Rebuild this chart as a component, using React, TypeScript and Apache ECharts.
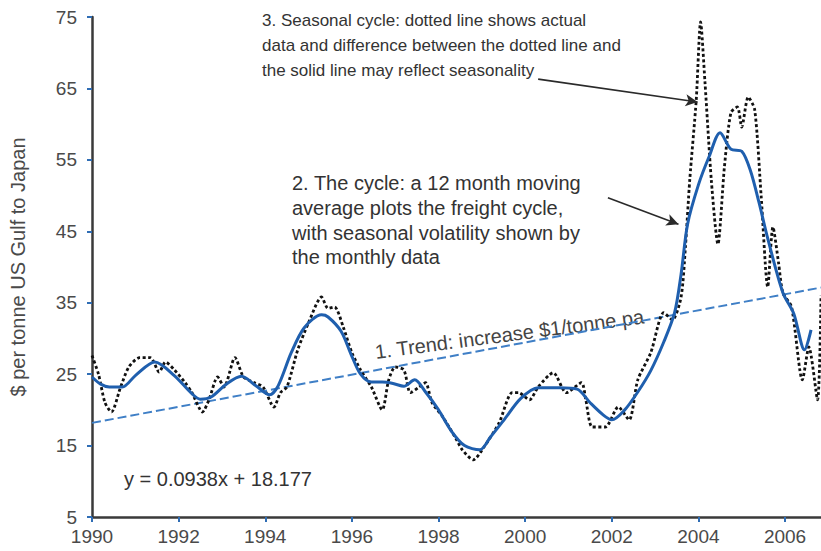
import React, { useEffect, useRef } from "react";
import * as echarts from "echarts";

// ---- Axis ----
const X_MIN = 1990;
const X_MAX = 2006.83;
const Y_MIN = 5;
const Y_MAX = 75;
const X_INTERVAL = 2;
const Y_INTERVAL = 10;
const Y_AXIS_NAME = "$ per tonne US Gulf to Japan";

// ---- 12 month moving average (solid blue) ----
const maYears = [
  1990.0, 1990.2, 1990.4, 1990.7, 1991.0, 1991.45, 1991.9, 1992.3, 1992.5, 1992.75,
  1993.1, 1993.45, 1993.8, 1994.1, 1994.3, 1994.6, 1994.9, 1995.3, 1995.45, 1995.75,
  1996.0, 1996.2, 1996.45, 1996.7, 1996.95, 1997.2, 1997.45, 1997.7, 1998.0, 1998.3,
  1998.6, 1998.95, 1999.2, 1999.5, 1999.9, 2000.3, 2000.8, 2001.2, 2001.5, 2001.8,
  2002.0, 2002.3, 2002.6, 2002.9, 2003.2, 2003.45, 2003.6, 2003.75, 2004.0, 2004.25,
  2004.5, 2004.75, 2005.0, 2005.2, 2005.4, 2005.6, 2005.95, 2006.2, 2006.45, 2006.6,
];
const maValues = [
  24.6, 23.6, 23.2, 23.2, 24.8, 26.7, 24.8, 22.3, 21.5, 21.8,
  23.6, 24.7, 23.3, 22.1, 23.4, 28.0, 31.5, 33.3, 33.0, 31.0,
  27.5, 25.0, 23.9, 23.9, 23.7, 23.3, 24.2, 22.5, 20.0, 17.0,
  15.0, 14.4, 16.2, 18.5, 21.6, 23.1, 23.1, 22.9, 21.0, 19.3,
  18.6, 20.0, 22.5, 25.5, 29.5, 33.6, 39.0, 46.0, 51.5, 55.5,
  58.8, 56.5, 56.2, 53.5, 49.0, 44.0, 36.4, 33.5, 28.4, 31.2,
];

// ---- Monthly data (dotted black) ----
const moYears = [
  1990.0, 1990.15, 1990.3, 1990.45, 1990.65, 1990.85, 1991.1, 1991.35, 1991.55, 1991.7,
  1991.9, 1992.15, 1992.3, 1992.55, 1992.7, 1992.9, 1993.05, 1993.3, 1993.5, 1993.75,
  1993.95, 1994.2, 1994.35, 1994.5, 1994.75, 1995.0, 1995.3, 1995.45, 1995.6, 1995.8,
  1996.0, 1996.2, 1996.45, 1996.7, 1996.85, 1997.0, 1997.2, 1997.35, 1997.55, 1997.7,
  1997.85, 1998.1, 1998.4, 1998.55, 1998.8, 1999.05, 1999.4, 1999.7, 1999.85, 2000.1,
  2000.3, 2000.65, 2000.95, 2001.3, 2001.4, 2001.55, 2001.85, 2002.15, 2002.4, 2002.6,
  2002.9, 2003.2, 2003.4, 2003.6, 2003.7, 2003.8, 2003.95, 2004.05, 2004.15, 2004.3,
  2004.45, 2004.6, 2004.75, 2004.9, 2005.0, 2005.15, 2005.3, 2005.45, 2005.6, 2005.72,
  2005.85, 2005.95, 2006.15, 2006.4, 2006.55, 2006.75, 2006.83,
];
const moValues = [
  27.6, 25.0, 21.0, 19.7, 23.0, 26.0, 27.3, 27.3, 25.3, 26.7,
  25.6, 23.8, 22.5, 19.7, 21.4, 24.6, 23.2, 27.3, 24.6, 23.8,
  23.2, 20.4, 22.4, 23.2, 28.4, 32.2, 35.8, 34.2, 34.4, 31.6,
  28.0, 25.6, 23.2, 20.0, 24.2, 26.0, 25.6, 22.4, 23.2, 23.8,
  21.0, 19.0, 16.0, 14.4, 13.0, 14.8, 18.2, 22.4, 22.4, 21.4,
  23.2, 25.2, 22.4, 23.8, 21.4, 17.6, 17.6, 20.4, 18.6, 24.2,
  28.0, 33.6, 32.6, 35.8, 42.8, 52.2, 63.4, 74.3, 66.0, 52.0,
  43.2, 54.0, 61.6, 62.4, 59.6, 63.8, 62.0, 49.8, 37.2, 45.6,
  40.6, 36.4, 34.4, 24.2, 28.8, 21.4, 36.0,
];

// ---- Trend: y = 0.0938x + 18.177 (x in months since Jan 1990) ----
const TREND_SLOPE = 0.0938;
const TREND_INTERCEPT = 18.177;
const trendAt = (year: number) => TREND_INTERCEPT + TREND_SLOPE * (year - X_MIN) * 12;

// ---- Annotation texts ----
const NOTE_SEASONAL = [
  "3. Seasonal cycle: dotted line shows actual",
  "data and difference between the dotted line and",
  "the solid line may reflect seasonality",
];
const NOTE_CYCLE = [
  "2. The cycle: a 12 month moving",
  "average plots the freight cycle,",
  "with seasonal volatility shown by",
  "the monthly data",
];
const NOTE_TREND = "1. Trend: increase $1/tonne pa";
const NOTE_EQUATION = "y = 0.0938x + 18.177";

// arrows (data coordinates: [year, value])
const arrowSeasonal = [[2000.3, 66.3], [2003.98, 63.1]];
const arrowCycle = [[2001.91, 49.7], [2003.54, 46.0]];

const FONT = '"Liberation Sans", Arial, Helvetica, sans-serif';

export default function App() {
  const ref = useRef<HTMLDivElement>(null);
  useEffect(() => {
    if (!ref.current) return;
    const chart = echarts.init(ref.current, undefined, { renderer: "svg" });
    const maData = maYears.map((y, i) => [y, maValues[i]]);
    const moData = moYears.map((y, i) => [y, moValues[i]]);
    const trendData = [[X_MIN, trendAt(X_MIN)], [X_MAX, trendAt(X_MAX)]];

    chart.setOption({
      animation: false,
      backgroundColor: "#ffffff",
      grid: { left: 89, right: 0, top: 17, bottom: 34, containLabel: false },
      xAxis: {
        type: "value",
        min: X_MIN,
        max: X_MAX,
        interval: X_INTERVAL,
        axisLine: { show: true, onZero: false, lineStyle: { color: "#3a3a3a", width: 2.5 } },
        axisTick: { show: true, length: 5, lineStyle: { color: "#2f6db5", width: 2 } },
        axisLabel: {
          showMaxLabel: false,
          margin: 10,
          color: "#4a4a4a",
          fontSize: 19,
          fontFamily: FONT,
          formatter: (v: number) => (Number.isInteger(v) ? String(v) : ""),
        },
        splitLine: { show: false },
      },
      yAxis: {
        type: "value",
        min: Y_MIN,
        max: Y_MAX,
        interval: Y_INTERVAL,
        name: Y_AXIS_NAME,
        nameLocation: "middle",
        nameGap: 64,
        nameTextStyle: { color: "#4a4a4a", fontSize: 20, fontFamily: FONT },
        axisLine: { show: true, lineStyle: { color: "#3a3a3a", width: 2.5 } },
        axisTick: { show: true, length: 5, lineStyle: { color: "#2f6db5", width: 2 } },
        axisLabel: { margin: 15, color: "#4a4a4a", fontSize: 19, fontFamily: FONT },
        splitLine: { show: false },
      },
      series: [
        {
          name: "Trend",
          type: "line",
          data: trendData,
          showSymbol: false,
          silent: true,
          lineStyle: { color: "#3f7fc6", width: 2, type: [9, 4] },
          z: 1,
        },
        {
          name: "Monthly",
          type: "line",
          data: moData,
          showSymbol: false,
          smooth: 0.25,
          silent: true,
          lineStyle: { color: "#111111", width: 2.8, type: [3, 2.5] },
          z: 2,
          markLine: {
            silent: true,
            symbol: ["none", "arrow"],
            symbolSize: [9, 12],
            label: { show: false },
            lineStyle: { color: "#2a2a2a", width: 1.6, type: "solid" },
            data: [
              [{ coord: arrowSeasonal[0] }, { coord: arrowSeasonal[1] }],
              [{ coord: arrowCycle[0] }, { coord: arrowCycle[1] }],
            ],
          },
        },
        {
          name: "12 month moving average",
          type: "line",
          data: maData,
          showSymbol: false,
          smooth: 0.3,
          silent: true,
          lineStyle: { color: "#1f5fae", width: 3 },
          z: 3,
        },
      ],
      graphic: [
        {
          type: "text",
          left: 262,
          top: 8,
          silent: true,
          style: {
            text: NOTE_SEASONAL.join("\n"),
            fill: "#333333",
            font: `17px ${FONT}`,
            lineHeight: 25,
          },
        },
        {
          type: "text",
          left: 292,
          top: 171,
          silent: true,
          style: {
            text: NOTE_CYCLE.join("\n"),
            fill: "#333333",
            font: `20px ${FONT}`,
            lineHeight: 24.7,
          },
        },
        {
          type: "text",
          x: 375,
          y: 352,
          rotation: (7.5 * Math.PI) / 180,
          silent: true,
          style: {
            text: NOTE_TREND,
            fill: "#444444",
            font: `20px ${FONT}`,
            textAlign: "left",
            textVerticalAlign: "middle",
          },
        },
        {
          type: "text",
          x: 124,
          y: 479,
          silent: true,
          style: {
            text: NOTE_EQUATION,
            fill: "#333333",
            font: `20px ${FONT}`,
            textAlign: "left",
            textVerticalAlign: "middle",
          },
        },
      ],
    });
    return () => chart.dispose();
  }, []);

  return (
    <div
      ref={ref}
      style={{ position: "fixed", left: 0, top: 0, width: 821, height: 551, background: "#fff" }}
    />
  );
}
